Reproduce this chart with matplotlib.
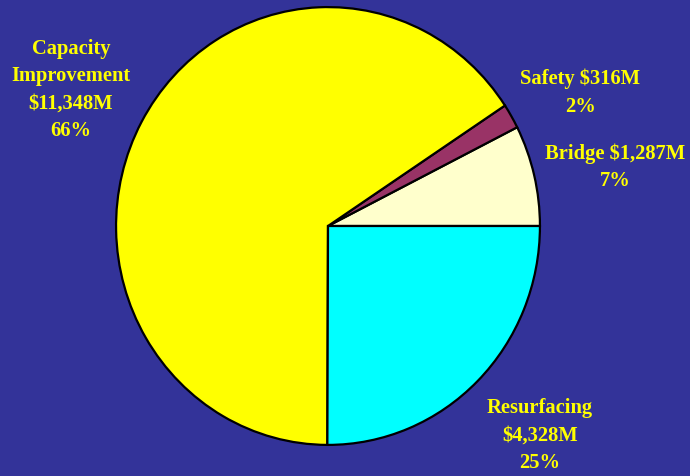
import matplotlib
matplotlib.use("Agg")
import matplotlib.pyplot as plt

categories = ["Bridge", "Safety", "Capacity Improvement", "Resurfacing"]
values = [1287, 316, 11348, 4328]
percents = ["7%", "2%", "66%", "25%"]
amounts = ["$1,287M", "$316M", "$11,348M", "$4,328M"]
colors = ["#FFFFCC", "#993366", "#FFFF00", "#00FFFF"]

W, H = 690, 477
bg = "#333399"
fig = plt.figure(figsize=(W / 100, H / 100), dpi=100, facecolor=bg)
ax = fig.add_axes([115 / W, 30 / H, 426 / W, 440 / H])
ax.set_facecolor(bg)
ax.pie(values, colors=colors, startangle=0, counterclock=True, radius=1,
       wedgeprops=dict(edgecolor="black", linewidth=1.6))
ax.set_aspect("auto")
ax.set_xlim(-1.005, 1.005)
ax.set_ylim(-1.005, 1.005)
ax.axis("off")

tstyle = dict(color="#FFFF00", fontweight="bold", family=["Liberation Serif", "DejaVu Serif"],
              fontsize=14.8, ha="center", va="center", linespacing=1.5)

def put(x, y, s):
    fig.text(x / W, 1 - y / H, s, **tstyle)

put(71, 90, f"Capacity\nImprovement\n{amounts[2]}\n{percents[2]}")
put(580, 93, f"Safety {amounts[1]}\n{percents[1]}")
put(615, 167, f"Bridge {amounts[0]}\n{percents[0]}")
put(540, 436, f"Resurfacing\n{amounts[3]}\n{percents[3]}")

fig.savefig("out.png", dpi=100, facecolor=bg)
